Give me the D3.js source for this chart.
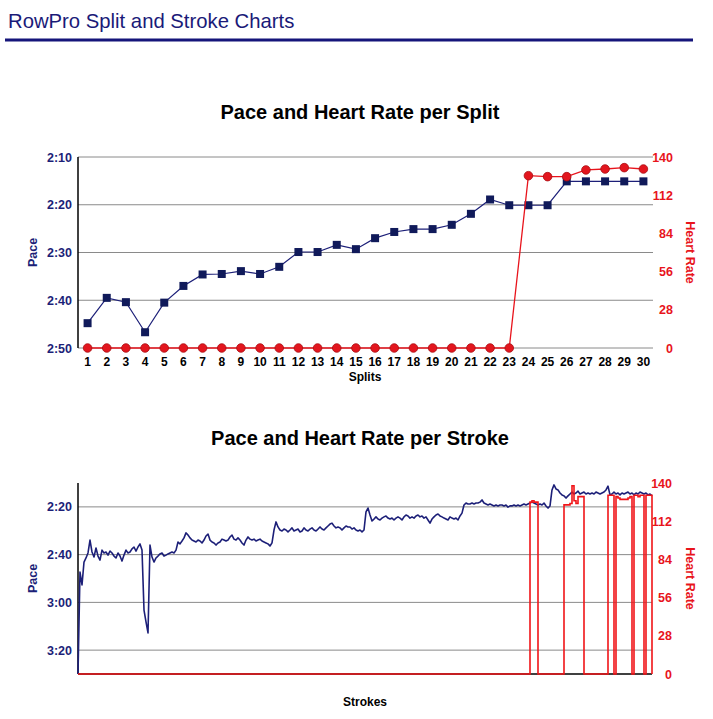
<!DOCTYPE html>
<html>
<head>
<meta charset="utf-8">
<script src="https://cdn.jsdelivr.net/npm/d3@7"></script>
<style>
  html, body { margin: 0; padding: 0; background: #fff; }
  svg { display: block; font-family: "Liberation Sans", Arial, Helvetica, sans-serif; }
</style>
</head>
<body>
<svg id="chart" width="713" height="719"></svg>
<script>
// ---------------- DATA ----------------
const splits = d3.range(1, 31);
// pace per split, seconds per 500m
const splitPace = [164.8, 159.5, 160.4, 166.7, 160.5, 157.0, 154.6, 154.5, 153.9, 154.5,
                   153.0, 149.9, 149.9, 148.4, 149.3, 147.0, 145.7, 145.1, 145.1, 144.2,
                   141.9, 138.9, 140.1, 140.1, 140.1, 135.1, 135.1, 135.1, 135.1, 135.1];
const splitHR = [0, 0, 0, 0, 0, 0, 0, 0, 0, 0,
                 0, 0, 0, 0, 0, 0, 0, 0, 0, 0,
                 0, 0, 0, 126.3, 125.6, 125.6, 130.5, 131.2, 132.2, 131.2];
const splitPaceTicks = [130, 140, 150, 160, 170];
const hrTicks = [0, 28, 56, 84, 112, 140];

// pace per stroke, seconds per 500m (288 strokes)
const strokePace = [
  210.0,167.3,172.7,163.1,161.4,159.3,153.9,158.9,161.0,157.2,160.6,162.3,
  158.1,159.3,158.9,160.2,158.5,159.3,160.6,161.4,159.3,160.6,162.7,160.2,
  158.1,159.3,158.9,157.6,156.8,158.5,156.8,155.5,158.1,183.2,188.2,192.8,
  156.0,161.0,163.1,161.4,160.6,159.7,159.3,160.6,160.2,159.7,159.3,158.9,
  159.3,158.1,154.7,155.5,154.3,153.0,150.9,151.8,153.0,153.9,154.3,154.7,
  153.9,154.3,155.1,153.9,152.2,151.4,153.9,154.7,155.1,156.0,155.1,154.7,
  153.5,153.9,154.3,153.9,152.6,151.8,153.5,153.9,153.0,153.9,155.1,156.0,
  153.9,152.6,153.5,153.9,153.5,154.3,153.9,153.5,154.3,154.7,155.1,155.5,
  156.4,155.1,149.7,146.3,148.4,149.7,150.1,149.3,149.7,150.5,149.7,148.8,
  150.1,149.7,149.3,150.5,150.1,148.8,149.7,150.1,149.3,148.8,149.7,150.1,
  149.3,148.4,149.3,149.7,148.8,148.0,147.2,146.8,148.0,148.8,148.4,148.8,
  149.7,148.8,148.0,148.4,148.4,149.3,148.8,149.7,150.1,149.7,150.5,149.7,
  142.1,140.5,143.4,145.9,145.1,144.2,145.1,145.5,144.7,144.2,143.8,144.7,
  145.1,144.7,145.5,144.7,144.2,144.7,145.5,144.2,143.4,143.8,144.7,144.2,
  144.7,143.8,143.4,144.2,143.8,144.7,144.2,145.5,146.8,145.1,144.2,143.4,
  143.0,143.8,144.2,144.7,145.1,145.5,144.2,144.7,145.1,144.7,145.5,143.8,
  142.6,139.2,138.4,138.8,138.8,138.4,138.8,138.4,138.4,138.0,137.1,138.4,
  138.8,139.2,138.8,139.2,139.6,139.2,139.6,139.2,139.2,139.6,139.2,140.1,
  139.6,139.6,139.2,139.6,139.2,139.6,139.2,138.8,139.2,138.8,138.4,138.0,
  138.4,138.8,139.2,138.8,139.2,138.4,139.6,140.5,139.6,132.9,130.8,132.5,
  132.9,134.2,135.0,135.4,136.3,135.4,134.6,133.8,134.6,134.2,133.4,134.6,
  134.2,133.8,134.6,134.2,134.6,134.2,134.6,133.8,134.2,134.6,134.2,133.8,
  132.9,131.3,135.0,134.6,133.8,134.6,134.2,135.0,134.2,134.6,134.2,133.8,
  134.6,134.2,135.0,134.2,134.6,133.8,134.2,134.6,134.2,135.0,134.6,135.4
];
// heart rate per stroke (bpm), 288 strokes
const strokeHR = [
  0,0,0,0,0,0,0,0,0,0,0,0,0,0,0,0,0,0,0,0,
  0,0,0,0,0,0,0,0,0,0,0,0,0,0,0,0,0,0,0,0,
  0,0,0,0,0,0,0,0,0,0,0,0,0,0,0,0,0,0,0,0,
  0,0,0,0,0,0,0,0,0,0,0,0,0,0,0,0,0,0,0,0,
  0,0,0,0,0,0,0,0,0,0,0,0,0,0,0,0,0,0,0,0,
  0,0,0,0,0,0,0,0,0,0,0,0,0,0,0,0,0,0,0,0,
  0,0,0,0,0,0,0,0,0,0,0,0,0,0,0,0,0,0,0,0,
  0,0,0,0,0,0,0,0,0,0,0,0,0,0,0,0,0,0,0,0,
  0,0,0,0,0,0,0,0,0,0,0,0,0,0,0,0,0,0,0,0,
  0,0,0,0,0,0,0,0,0,0,0,0,0,0,0,0,0,0,0,0,
  0,0,0,0,0,0,0,0,0,0,0,0,0,0,0,0,0,0,0,0,
  0,0,0,0,0,0,
  126,127,126,126,
  0,0,0,0,0,0,0,0,0,0,0,0,0,
  124,124,124,125,138,127,125,130,130,130,
  0,0,0,0,0,0,0,0,0,0,0,0,
  131,131,131,
  0,
  130,129,128,128,128,128,129,130,
  0,
  131,131,130,131,131,
  0,
  131,131,131,
  0
];
const strokePaceTicks = [140, 160, 180, 200];

// ---------------- STYLE ----------------
const NAVY = "#1c1f78";
const NAVY_DARK = "#101a5a";
const RED = "#e8141c";
const GRID = "#8a8a8a";
const fmt = s => Math.floor(s / 60) + ":" + String(Math.round(s % 60)).padStart(2, "0");

const svg = d3.select("#chart");

// header
svg.append("text").attr("x", 8).attr("y", 28)
  .attr("font-size", 20.3).attr("fill", "#1a1a78").text("RowPro Split and Stroke Charts");
svg.append("line").attr("x1", 5).attr("x2", 693).attr("y1", 40).attr("y2", 40)
  .attr("stroke", "#15157a").attr("stroke-width", 3);

function frame(g, yPace, yHR, left, right, top, bottom, paceTicks) {
  g.append("g").selectAll("line").data(paceTicks).join("line")
    .attr("x1", left).attr("x2", right)
    .attr("y1", d => yPace(d)).attr("y2", d => yPace(d))
    .attr("stroke", GRID).attr("stroke-width", 1);
  const la = g.append("g").attr("transform", `translate(${left - 6},0)`)
    .call(d3.axisLeft(yPace).tickValues(paceTicks).tickFormat(fmt).tickSize(0).tickPadding(0));
  la.select(".domain").remove();
  la.selectAll("text").attr("font-size", 12.5).attr("font-weight", "bold")
    .attr("fill", NAVY).attr("font-family", "Liberation Sans, Arial, sans-serif");
  const ra = g.append("g").attr("transform", `translate(${right + 20},0)`)
    .call(d3.axisLeft(yHR).tickValues(hrTicks).tickSize(0).tickPadding(0));
  ra.select(".domain").remove();
  ra.selectAll("text").attr("font-size", 12.5).attr("font-weight", "bold")
    .attr("fill", RED).attr("font-family", "Liberation Sans, Arial, sans-serif");
  const midY = (top + bottom) / 2;
  g.append("text").attr("transform", `translate(37,${midY}) rotate(-90)`)
    .attr("text-anchor", "middle").attr("font-size", 12.5).attr("font-weight", "bold")
    .attr("fill", NAVY).text("Pace");
  g.append("text").attr("transform", `translate(686,${midY}) rotate(90)`)
    .attr("text-anchor", "middle").attr("font-size", 12.5).attr("font-weight", "bold")
    .attr("fill", RED).text("Heart Rate");
}

// ---------------- CHART 1: per split ----------------
{
  const left = 78, right = 653, top = 157, bottom = 348;
  const g = svg.append("g");
  const x = d3.scaleBand().domain(splits).range([left, right]);
  const yPace = d3.scaleLinear().domain([130, 170]).range([top, bottom]);
  const yHR = d3.scaleLinear().domain([0, 140]).range([bottom, top]);

  g.append("text").attr("x", 360).attr("y", 119).attr("text-anchor", "middle")
    .attr("font-size", 20).attr("font-weight", "bold").attr("fill", "#000")
    .text("Pace and Heart Rate per Split");

  frame(g, yPace, yHR, left, right, top, bottom, splitPaceTicks);

  g.append("line").attr("x1", left).attr("x2", left).attr("y1", top).attr("y2", bottom)
    .attr("stroke", "#000").attr("stroke-width", 1.5);

  const xa = g.append("g").attr("transform", `translate(0,${bottom + 5})`)
    .call(d3.axisBottom(x).tickSize(0).tickPadding(4));
  xa.select(".domain").remove();
  xa.selectAll("text").attr("font-size", 12).attr("font-weight", "bold")
    .attr("fill", "#000").attr("font-family", "Liberation Sans, Arial, sans-serif");

  g.append("text").attr("x", 365).attr("y", 381).attr("text-anchor", "middle")
    .attr("font-size", 12).attr("font-weight", "bold").text("Splits");

  const cx = (d, i) => x(splits[i]) + x.bandwidth() / 2;

  g.append("path").datum(splitPace)
    .attr("d", d3.line().x((d, i) => cx(d, i)).y(d => yPace(d)))
    .attr("fill", "none").attr("stroke", NAVY).attr("stroke-width", 1.2);
  g.append("g").selectAll("rect").data(splitPace).join("rect")
    .attr("x", (d, i) => cx(d, i) - 4).attr("y", d => yPace(d) - 4)
    .attr("width", 8).attr("height", 8).attr("fill", NAVY_DARK);

  g.append("path").datum(splitHR)
    .attr("d", d3.line().x((d, i) => cx(d, i)).y(d => yHR(d)))
    .attr("fill", "none").attr("stroke", RED).attr("stroke-width", 1.3);
  g.append("g").selectAll("circle").data(splitHR).join("circle")
    .attr("cx", (d, i) => cx(d, i)).attr("cy", d => yHR(d)).attr("r", 4.3)
    .attr("fill", "#e3161e").attr("stroke", "#a80d12").attr("stroke-width", 0.8);
}

// ---------------- CHART 2: per stroke ----------------
{
  const left = 78, right = 652, top = 483, bottom = 674;
  const g = svg.append("g");
  const x = d3.scaleLinear().domain([0, strokePace.length - 1]).range([left, right]);
  const yPace = d3.scaleLinear().domain([130, 210]).range([top, bottom]);
  const yHR = d3.scaleLinear().domain([0, 140]).range([bottom, top]);

  g.append("text").attr("x", 360).attr("y", 445).attr("text-anchor", "middle")
    .attr("font-size", 20).attr("font-weight", "bold").attr("fill", "#000")
    .text("Pace and Heart Rate per Stroke");

  frame(g, yPace, yHR, left, right, top, bottom, strokePaceTicks);

  g.append("line").attr("x1", left).attr("x2", left).attr("y1", top).attr("y2", bottom)
    .attr("stroke", "#000").attr("stroke-width", 1.5);
  g.append("line").attr("x1", left).attr("x2", right).attr("y1", bottom).attr("y2", bottom)
    .attr("stroke", "#000").attr("stroke-width", 1.5);

  g.append("text").attr("x", 365).attr("y", 706).attr("text-anchor", "middle")
    .attr("font-size", 12).attr("font-weight", "bold").text("Strokes");

  g.append("path").datum(strokePace)
    .attr("d", d3.line().x((d, i) => x(i)).y(d => yPace(d)))
    .attr("fill", "none").attr("stroke", NAVY).attr("stroke-width", 1.6)
    .attr("stroke-linejoin", "round");

  g.append("path").datum(strokeHR)
    .attr("d", d3.line().x((d, i) => x(i)).y(d => yHR(d)).curve(d3.curveStepAfter))
    .attr("fill", "none").attr("stroke", "#f01418").attr("stroke-width", 1.6);
}
</script>
</body>
</html>
